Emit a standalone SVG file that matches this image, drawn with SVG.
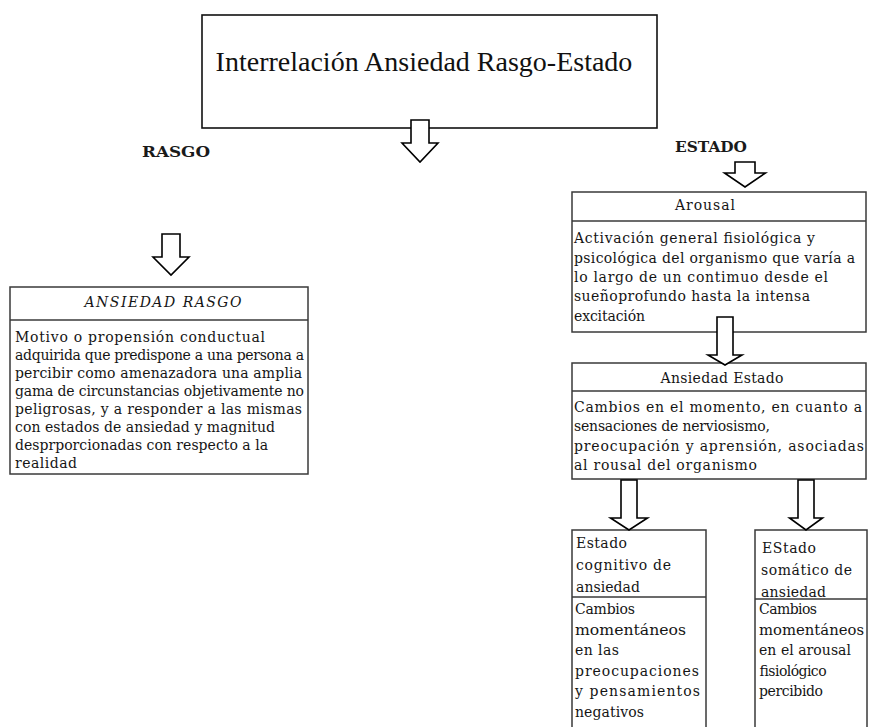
<svg xmlns="http://www.w3.org/2000/svg" width="869" height="727" viewBox="0 0 869 727">
<style>
.bg{fill:#fff}
.box{fill:#fff;stroke:#3a3a3a;stroke-width:1.5}
.div{stroke:#3a3a3a;stroke-width:1.5;fill:none}
.title{font-family:"Liberation Serif",serif;font-size:28px;fill:#111}
.t{font-family:"DejaVu Serif",serif;font-size:14px;fill:#151515}
.h{font-family:"DejaVu Serif",serif;font-size:14px;fill:#151515;text-anchor:middle}
.hi{font-style:italic}
.lbl{font-family:"DejaVu Serif",serif;font-size:15px;font-weight:bold;fill:#1a1a1a}
.arrow{fill:#fff;stroke:#000;stroke-width:1.6;stroke-linejoin:miter}
</style>
<rect class="bg" x="0" y="0" width="869" height="727"/>

<g id="title">
<rect x="202" y="15" width="455" height="113" fill="#fff" stroke="#111" stroke-width="1.6"/>
<text class="title" x="424" y="71" text-anchor="middle">Interrelación Ansiedad Rasgo-Estado</text>
</g>

<g id="label-rasgo">
<text class="lbl" x="142" y="157" textLength="68" lengthAdjust="spacingAndGlyphs">RASGO</text>
</g>
<g id="label-estado">
<text class="lbl" x="675" y="152" textLength="72" lengthAdjust="spacingAndGlyphs">ESTADO</text>
</g>

<g id="ansiedad-rasgo">
<rect class="box" x="10" y="287" width="298" height="187"/>
<line class="div" x1="10" y1="320" x2="308" y2="320"/>
<text class="h hi" x="163" y="307" textLength="157" lengthAdjust="spacing">ANSIEDAD RASGO</text>
<text class="t" x="15" y="342" textLength="250" lengthAdjust="spacing">Motivo o propensión conductual</text>
<text class="t" x="15" y="360" textLength="289" lengthAdjust="spacing">adquirida que predispone a una persona a</text>
<text class="t" x="15" y="378" textLength="287" lengthAdjust="spacing">percibir como amenazadora una amplia</text>
<text class="t" x="15" y="396" textLength="289" lengthAdjust="spacing">gama de circunstancias objetivamente no</text>
<text class="t" x="15" y="414" textLength="287" lengthAdjust="spacing">peligrosas, y a responder a las mismas</text>
<text class="t" x="15" y="432" textLength="260" lengthAdjust="spacing">con estados de ansiedad y magnitud</text>
<text class="t" x="15" y="450" textLength="253" lengthAdjust="spacing">desprporcionadas con respecto a la</text>
<text class="t" x="15" y="468" textLength="62" lengthAdjust="spacing">realidad</text>
</g>

<g id="arousal">
<rect class="box" x="572" y="192" width="294" height="140"/>
<line class="div" x1="572" y1="221" x2="866" y2="221"/>
<text class="h" x="705" y="210" textLength="60" lengthAdjust="spacing">Arousal</text>
<text class="t" x="574" y="243" textLength="241" lengthAdjust="spacing">Activación general fisiológica y</text>
<text class="t" x="574" y="262.5" textLength="281" lengthAdjust="spacing">psicológica del organismo que varía a</text>
<text class="t" x="574" y="282" textLength="254" lengthAdjust="spacing">lo largo de un contimuo desde el</text>
<text class="t" x="574" y="301" textLength="236" lengthAdjust="spacing">sueñoprofundo hasta la intensa</text>
<text class="t" x="574" y="320.5" textLength="71" lengthAdjust="spacing">excitación</text>
</g>

<g id="ansiedad-estado">
<rect class="box" x="572" y="363" width="294" height="116"/>
<line class="div" x1="572" y1="391" x2="866" y2="391"/>
<text class="h" x="722" y="383" textLength="123" lengthAdjust="spacing">Ansiedad Estado</text>
<text class="t" x="574" y="411.5" textLength="288" lengthAdjust="spacing">Cambios en el momento, en cuanto a</text>
<text class="t" x="574" y="431" textLength="196" lengthAdjust="spacing">sensaciones de nerviosismo,</text>
<text class="t" x="574" y="450.5" textLength="290" lengthAdjust="spacing">preocupación y aprensión, asociadas</text>
<text class="t" x="574" y="470" textLength="183" lengthAdjust="spacing">al rousal del organismo</text>
</g>

<g id="estado-cognitivo">
<rect class="box" x="572" y="530" width="134" height="200"/>
<line class="div" x1="572" y1="597" x2="706" y2="597"/>
<text class="t" x="576" y="548" textLength="51" lengthAdjust="spacing">Estado</text>
<text class="t" x="576" y="570" textLength="95" lengthAdjust="spacing">cognitivo de</text>
<text class="t" x="576" y="592" textLength="64" lengthAdjust="spacing">ansiedad</text>
<text class="t" x="575" y="614" textLength="60" lengthAdjust="spacing">Cambios</text>
<text class="t" x="575" y="634.5" textLength="111" lengthAdjust="spacingAndGlyphs">momentáneos</text>
<text class="t" x="575" y="655" textLength="44" lengthAdjust="spacing">en las</text>
<text class="t" x="575" y="675.5" textLength="124" lengthAdjust="spacing">preocupaciones</text>
<text class="t" x="575" y="696" textLength="125" lengthAdjust="spacing">y pensamientos</text>
<text class="t" x="575" y="716.5" textLength="69" lengthAdjust="spacing">negativos</text>
</g>

<g id="estado-somatico">
<rect class="box" x="755" y="530" width="112" height="200"/>
<line class="div" x1="755" y1="599" x2="867" y2="599"/>
<text class="t" x="762" y="553" textLength="54" lengthAdjust="spacing">EStado</text>
<text class="t" x="761" y="575" textLength="91" lengthAdjust="spacing">somático de</text>
<text class="t" x="761" y="597" textLength="65" lengthAdjust="spacing">ansiedad</text>
<text class="t" x="759" y="614" textLength="58" lengthAdjust="spacing">Cambios</text>
<text class="t" x="759" y="634.5" textLength="105" lengthAdjust="spacingAndGlyphs">momentáneos</text>
<text class="t" x="759" y="655" textLength="92" lengthAdjust="spacing">en el arousal</text>
<text class="t" x="759" y="675.5" textLength="67" lengthAdjust="spacing">fisiológico</text>
<text class="t" x="759" y="696" textLength="64" lengthAdjust="spacing">percibido</text>
</g>

<g id="connectors">
<path class="arrow" d="M411,120 H429 V143 H438 L420,162 L402,143 H411 Z"/>
<path class="arrow" d="M162,234 H180 V257 H189 L171,275 L153,257 H162 Z"/>
<path class="arrow" d="M735,162 H755 V173 H765.5 L745,187 L724.5,173 H735 Z"/>
<path class="arrow" d="M717,317 H733 V355 H742 L725,365 L708,355 H717 Z"/>
<path class="arrow" d="M621,480 H637 V518 H647.5 L629,530 L610.5,518 H621 Z"/>
<path class="arrow" d="M798,480 H814 V518 H822.5 L806,530 L789.5,518 H798 Z"/>
</g>
</svg>
